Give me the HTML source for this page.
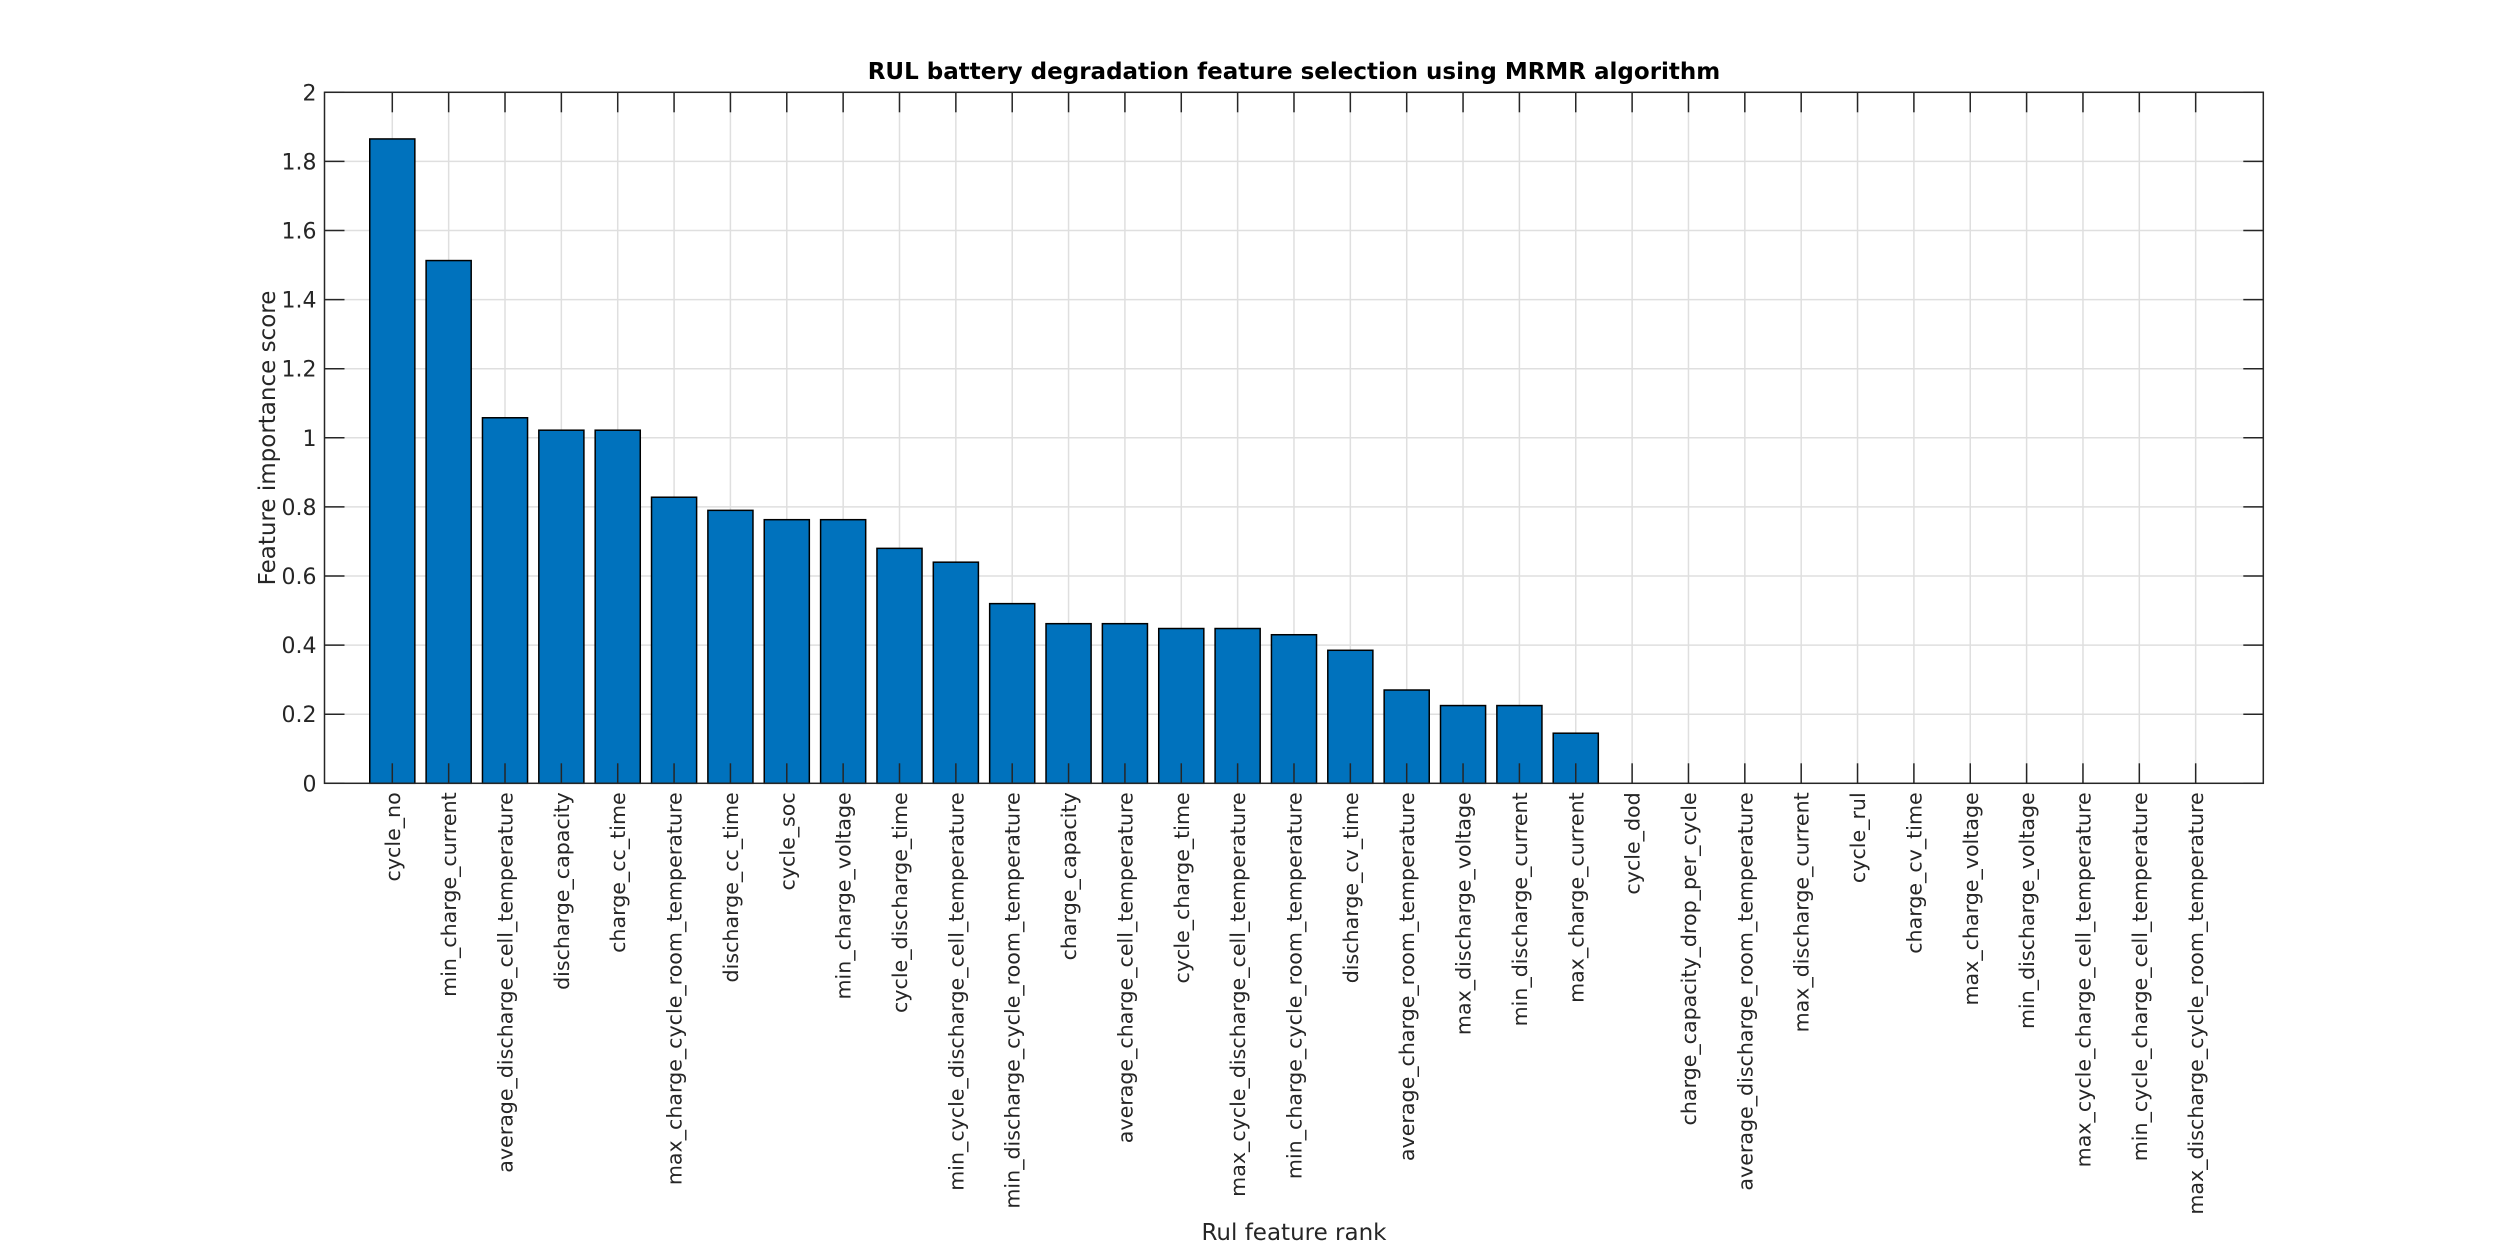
<!DOCTYPE html>
<html><head><meta charset="utf-8"><style>
html,body{margin:0;padding:0;background:#fff;}
svg{display:block;font-family:"DejaVu Sans","Liberation Sans",sans-serif;}
</style></head><body>
<svg id="chart" width="2500" height="1250" viewBox="0 0 2500 1250" xmlns="http://www.w3.org/2000/svg">
<rect width="2500" height="1250" fill="#fff"/>
<g id="grid"></g>
<g id="bars"></g>
<g id="axes"></g>
<text x="1294" y="79" text-anchor="middle" font-size="23" font-weight="bold" fill="#000">RUL battery degradation feature selection using MRMR algorithm</text>
<text transform="translate(275,438) rotate(-90)" text-anchor="middle" font-size="23" fill="#262626">Feature importance score</text>
<text x="1294" y="1240" text-anchor="middle" font-size="23" fill="#262626">Rul feature rank</text>
</svg>
<script>
const categories = ["cycle_no","min_charge_current","average_discharge_cell_temperature","discharge_capacity","charge_cc_time","max_charge_cycle_room_temperature","discharge_cc_time","cycle_soc","min_charge_voltage","cycle_discharge_time","min_cycle_discharge_cell_temperature","min_discharge_cycle_room_temperature","charge_capacity","average_charge_cell_temperature","cycle_charge_time","max_cycle_discharge_cell_temperature","min_charge_cycle_room_temperature","discharge_cv_time","average_charge_room_temperature","max_discharge_voltage","min_discharge_current","max_charge_current","cycle_dod","charge_capacity_drop_per_cycle","average_discharge_room_temperature","max_discharge_current","cycle_rul","charge_cv_time","max_charge_voltage","min_discharge_voltage","max_cycle_charge_cell_temperature","min_cycle_charge_cell_temperature","max_discharge_cycle_room_temperature"];
const scores = [1.865,1.513,1.058,1.022,1.022,0.828,0.79,0.763,0.763,0.68,0.64,0.52,0.462,0.462,0.448,0.448,0.43,0.385,0.27,0.225,0.225,0.145,0,0,0,0,0,0,0,0,0,0,0];
const yTicks = [0,0.2,0.4,0.6,0.8,1,1.2,1.4,1.6,1.8,2];
const yTickLabels = ["0","0.2","0.4","0.6","0.8","1","1.2","1.4","1.6","1.8","2"];

const NS = "http://www.w3.org/2000/svg";
const L = 324.5, R = 2263.3, T = 92.3, B = 783.3;
const xmin = -0.203, xmax = categories.length + 1.2;
const ymin = 0, ymax = 2;
function xs(v){ return L + (v - xmin) / (xmax - xmin) * (R - L); }
function ys(v){ return B - (v - ymin) / (ymax - ymin) * (B - T); }
function mk(tag, attrs, parent){ const e = document.createElementNS(NS, tag); for (const k in attrs) e.setAttribute(k, attrs[k]); parent.appendChild(e); return e; }

const grid = document.getElementById('grid');
const bars = document.getElementById('bars');
const axes = document.getElementById('axes');

categories.forEach((c, i) => {
  const x = xs(i + 1);
  const g = mk('line', {x1:x, x2:x, y1:T, y2:B, stroke:'#dfdfdf', 'stroke-width':1.5}, grid);
  
  
});
yTicks.forEach(v => {
  const y = ys(v);
  const g = mk('line', {x1:L, x2:R, y1:y, y2:y, stroke:'#dfdfdf', 'stroke-width':1.5}, grid);
  
  
});

const bw = 0.8 * (xs(2) - xs(1));
scores.forEach((v, i) => {
  if (v <= 0) return;
  const x = xs(i + 1) - bw / 2;
  const r = mk('rect', {x:x, y:ys(v), width:bw, height:ys(0) - ys(v), fill:'#0072bd', stroke:'#000', 'stroke-width':1.5}, bars);
  
  
});

const box = mk('rect', {x:L, y:T, width:R - L, height:B - T, fill:'none', stroke:'#262626', 'stroke-width':1.5}, axes);



yTicks.forEach((v, i) => {
  const y = ys(v);
  const t1 = mk('line', {x1:L, x2:L + 20, y1:y, y2:y, stroke:'#262626', 'stroke-width':1.5}, axes);
  
  
  const t2 = mk('line', {x1:R - 20, x2:R, y1:y, y2:y, stroke:'#262626', 'stroke-width':1.5}, axes);
  
  
  const lb = mk('text', {x:L - 8, y:y + 8, 'text-anchor':'end', 'font-size':22, fill:'#262626'}, axes);
  lb.textContent = yTickLabels[i];
  
  
});

categories.forEach((c, i) => {
  const x = xs(i + 1);
  const t1 = mk('line', {x1:x, x2:x, y1:B, y2:B - 20, stroke:'#262626', 'stroke-width':1.5}, axes);
  
  
  const t2 = mk('line', {x1:x, x2:x, y1:T, y2:T + 20, stroke:'#262626', 'stroke-width':1.5}, axes);
  
  
  const lb = mk('text', {transform:'translate(' + (x + 7.5) + ',' + (B + 9) + ') rotate(-90)', 'text-anchor':'end', 'font-size':20.6, fill:'#262626'}, axes);
  lb.textContent = c;
  
  
});
</script>
</body></html>
